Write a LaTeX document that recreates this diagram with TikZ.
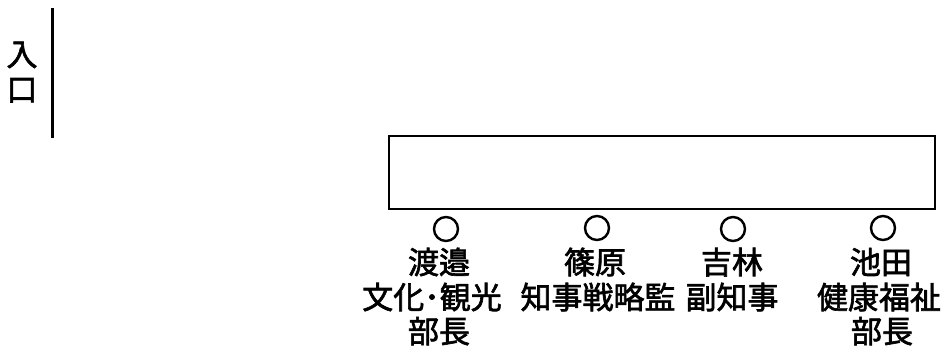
\documentclass[tikz,border=0pt]{standalone}
\usepackage{fontspec}
\newfontfamily\jp[FakeBold=2]{Noto Sans CJK JP}
\begin{document}
\begin{tikzpicture}[x=1pt,y=-1pt,
  lbl/.style={font=\jp\fontsize{31}{35}\selectfont, inner sep=0pt, text height=27.3pt, text depth=3.7pt, anchor=center},
  seat/.style={draw, circle, line width=2.4pt, minimum size=24pt, inner sep=0pt},
  box/.style={draw, line width=2pt}]
\useasboundingbox (0,0) rectangle (946,350);
% entrance
\node[lbl] (iri) at (22,54) {入};
\node[lbl] (kuchi) at (22,89) {口};
\coordinate (w1) at (52,8);
\coordinate (w2) at (52,138);
\draw[line width=3pt] (w1) -- (w2);
% table
\node[box, minimum width=546pt, minimum height=73pt, inner sep=0pt] (table) at (662,172.5) {};
% seats
\node[seat] (c1) at (446,229) {};
\node[seat] (c2) at (597,228) {};
\node[seat] (c3) at (733,229) {};
\node[seat] (c4) at (883,228) {};
% person 1
\node[lbl] (p1a) at (439,262) {渡邉};
\node[lbl] (p1b) at (432,297) {文化･観光};
\node[lbl] (p1c) at (439,331) {部長};
% person 2
\node[lbl] (p2a) at (595,262) {篠原};
\node[lbl] (p2b) at (598,297) {知事戦略監};
% person 3
\node[lbl] (p3a) at (732,262) {吉林};
\node[lbl] (p3b) at (732,297) {副知事};
% person 4
\node[lbl] (p4a) at (881,262) {池田};
\node[lbl] (p4b) at (879,297) {健康福祉};
\node[lbl] (p4c) at (882,331) {部長};
\end{tikzpicture}
\end{document}
